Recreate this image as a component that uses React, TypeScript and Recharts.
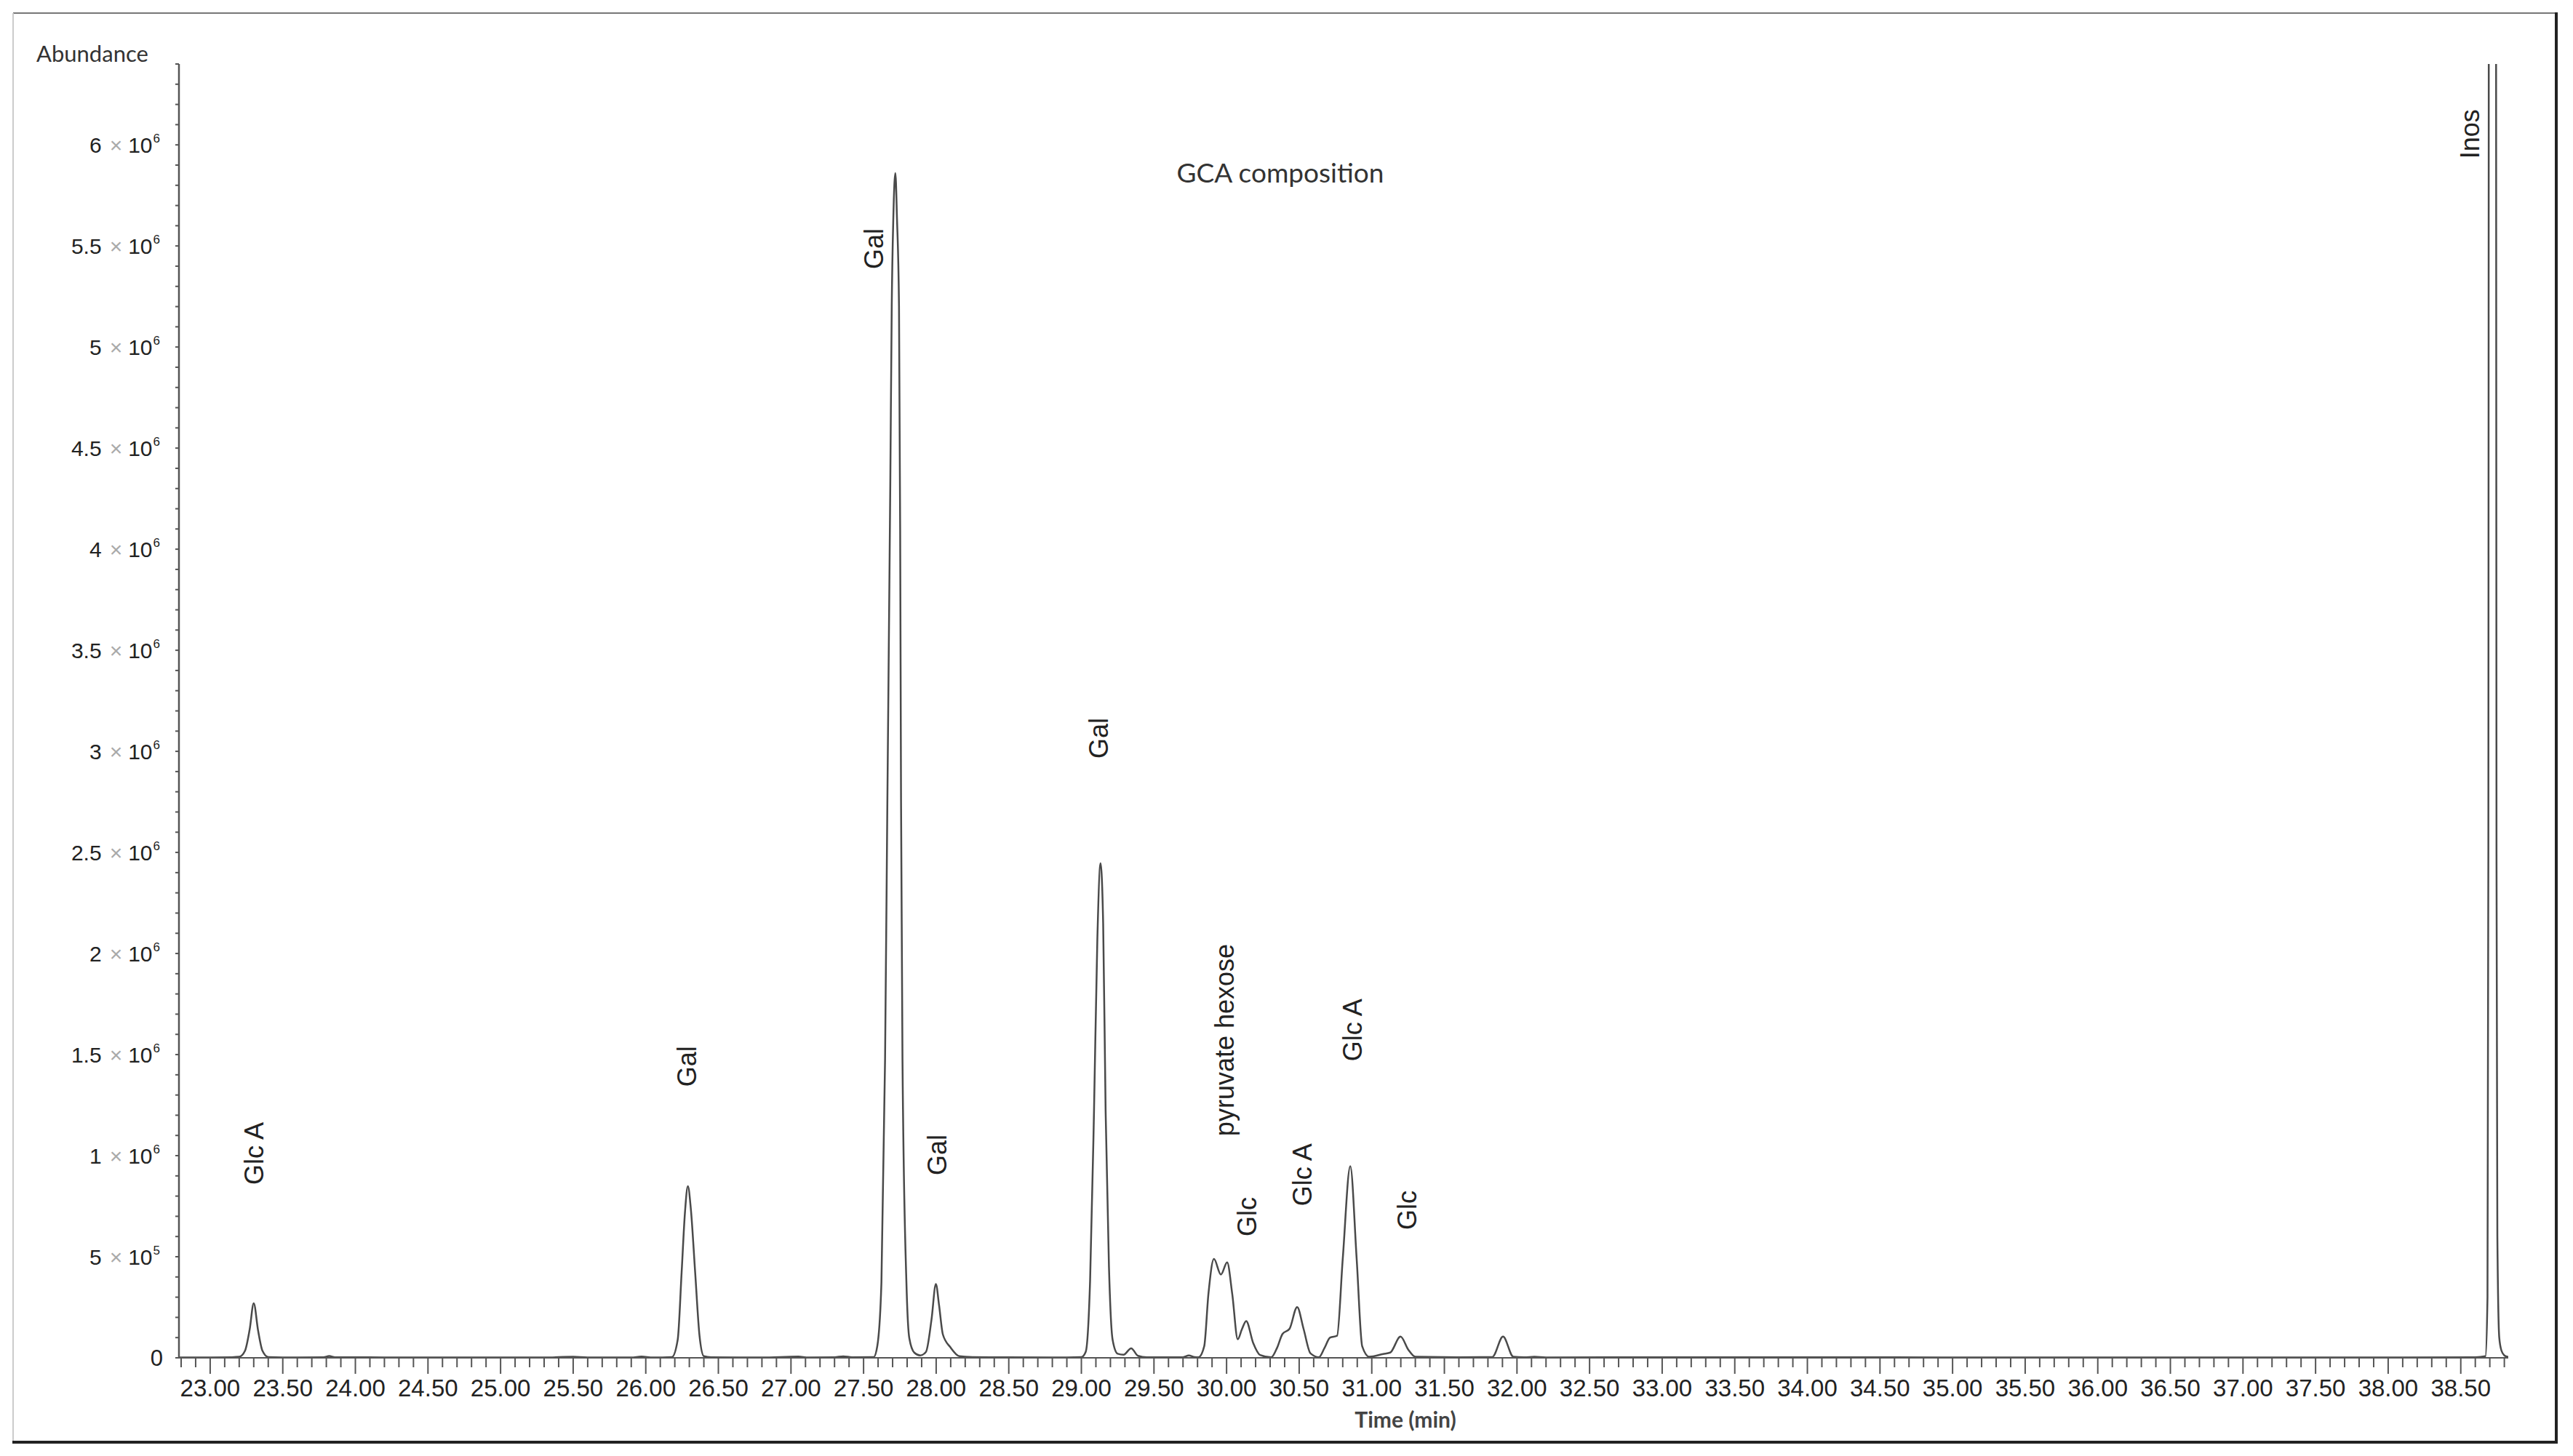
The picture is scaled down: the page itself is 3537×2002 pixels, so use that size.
import { LineChart, Line, XAxis, YAxis, ReferenceDot } from 'recharts'

// retention time (min) and abundance
const retentionTime = [
  22.785, 23.0, 23.15, 23.2, 23.24, 23.272, 23.3, 23.33, 23.36, 23.4,
  23.6, 23.78, 23.82, 23.86, 24.2, 24.8, 25.3, 25.5, 25.6, 25.9,
  25.97, 26.05, 26.18, 26.22, 26.247, 26.27, 26.29, 26.31, 26.34, 26.37,
  26.4, 26.45, 26.8, 27.05, 27.12, 27.3, 27.36, 27.42, 27.57, 27.595,
  27.623, 27.648, 27.664, 27.684, 27.694, 27.705, 27.719, 27.73, 27.744, 27.752,
  27.758, 27.768, 27.795, 27.815, 27.85, 27.89, 27.93, 27.968, 27.998, 28.02,
  28.046, 28.098, 28.16, 28.25, 28.4, 28.8, 29.0, 29.03, 29.06, 29.087,
  29.11, 29.132, 29.15, 29.167, 29.19, 29.215, 29.25, 29.29, 29.343, 29.39,
  29.45, 29.7, 29.74, 29.78, 29.807, 29.846, 29.875, 29.913, 29.961, 30.004,
  30.039, 30.077, 30.105, 30.135, 30.183, 30.231, 30.308, 30.347, 30.385, 30.434,
  30.486, 30.53, 30.578, 30.636, 30.674, 30.713, 30.761, 30.8, 30.852, 30.896,
  30.934, 30.983, 31.079, 31.127, 31.198, 31.252, 31.3, 31.6, 31.83, 31.904,
  31.975, 32.05, 32.12, 32.2, 33.0, 34.2, 35.0, 36.5, 38.0, 38.6,
  38.67, 38.684, 38.69, 38.694, 38.718, 38.742, 38.746, 38.752, 38.765, 38.78,
  38.8, 38.827,
]

const abundance = [
  2000, 2000, 3000, 5000, 35000, 140000, 270000, 135000, 35000, 4000,
  2000, 3000, 9000, 3000, 2000, 2000, 2000, 5000, 2000, 2000,
  6000, 2000, 4000, 90000, 424000, 720000, 849000, 740000, 424000, 110000,
  8000, 3000, 2000, 6000, 2000, 3000, 7000, 3000, 4000, 60000,
  374000, 1475000, 2760000, 4320000, 5200000, 5640000, 5860000, 5640000, 5200000, 4100000,
  2760000, 1475000, 374000, 97000, 25000, 12000, 30000, 190000, 365000, 260000,
  116000, 52000, 8000, 4000, 3000, 2000, 4000, 30000, 380000, 1220000,
  2070000, 2446000, 2150000, 1220000, 450000, 90000, 20000, 15000, 47000, 10000,
  3000, 3000, 12000, 4000, 3000, 57000, 316000, 489000, 412000, 472000,
  316000, 92000, 140000, 182000, 74000, 14000, 3000, 48000, 118000, 144000,
  251000, 144000, 22000, 3000, 48000, 100000, 109000, 489000, 948000, 489000,
  57000, 5000, 19000, 26000, 105000, 40000, 5000, 3000, 4000, 105000,
  5000, 3000, 5000, 2000, 3000, 3000, 2000, 2000, 2000, 3000,
  8000, 300000, 2500000, 8000000, 11000000, 8000000, 2500000, 600000, 100000, 36000,
  12000, 4000,
]

const timeTickLabels = [
  '23.00', '23.50', '24.00', '24.50', '25.00', '25.50', '26.00', '26.50',
  '27.00', '27.50', '28.00', '28.50', '29.00', '29.50', '30.00', '30.50',
  '31.00', '31.50', '32.00', '32.50', '33.00', '33.50', '34.00', '34.50',
  '35.00', '35.50', '36.00', '36.50', '37.00', '37.50', '38.00', '38.50',
]

const abundanceTickValues = [
  0, 500000, 1000000, 1500000, 2000000, 2500000, 3000000, 3500000,
  4000000, 4500000, 5000000, 5500000, 6000000,
]

const peakNames = ['Glc A', 'Gal', 'Gal', 'Gal', 'Gal', 'pyruvate hexose', 'Glc', 'Glc A', 'Glc A', 'Glc', 'Inos']
const peakLabelTime = [23.304, 26.287, 27.574, 28.008, 29.122, 29.989, 30.143, 30.522, 30.871, 31.246, 38.566]
const peakLabelAbundance = [1011000, 1442000, 5486000, 1004000, 3065000, 1572000, 698000, 906000, 1622000, 730000, 6054000]

const chromatogram = retentionTime.map((t, i) => ({ t, a: abundance[i] }))
const peakLabels = peakNames.map((name, i) => ({ name, t: peakLabelTime[i], a: peakLabelAbundance[i] }))

// minor ticks every 0.1 min / 1e5 counts
const minorTimeTicks = Array.from({ length: 161 }, (_, i) => Math.round((22.8 + i * 0.1) * 10) / 10)
const minorAbundanceTicks = Array.from({ length: 65 }, (_, i) => i * 100000)
const majorTimes = timeTickLabels.map(Number)

const W = 3537
const H = 2002
const axisFont = '"Liberation Sans", Arial, sans-serif'
const titleFont = 'Lato, "Open Sans", sans-serif'

function TimeTick(props: any) {
  const { x, y, payload } = props
  const v = payload.value as number
  const idx = majorTimes.findIndex((m) => Math.abs(m - v) < 1e-6)
  const major = idx >= 0
  return (
    <g>
      <line x1={x} x2={x} y1={y} y2={y + (major ? 22 : 13)} stroke="#555" strokeWidth={2} />
      {major && (
        <text x={x} y={y + 53} textAnchor="middle" fontSize={33} fontFamily={axisFont} fill="#222">
          {timeTickLabels[idx]}
        </text>
      )}
    </g>
  )
}

function AbundanceTick(props: any) {
  const { x, y, payload } = props
  const v = payload.value as number
  const major = abundanceTickValues.includes(v)
  let label = null
  if (major) {
    if (v === 0) {
      label = (
        <text x={x - 22} y={y} textAnchor="end" dominantBaseline="central" fontSize={31} fontFamily={axisFont} fill="#222">
          0
        </text>
      )
    } else {
      const exp = v >= 1000000 ? 6 : 5
      const mant = String(v / Math.pow(10, exp))
      label = (
        <text x={x - 26} y={y} textAnchor="end" dominantBaseline="central" fontSize={30} fontFamily={axisFont} fill="#222">
          {mant}
          <tspan dx={11} fill="#aaa">×</tspan>
          <tspan dx={8}>10</tspan>
          <tspan dx={1} dy={-9} fontSize={17}>{exp}</tspan>
        </text>
      )
    }
  }
  return (
    <g>
      <line x1={x - 5} x2={x} y1={y} y2={y} stroke="#555" strokeWidth={2} />
      {label}
    </g>
  )
}

function PeakLabel(props: any) {
  const { cx, cy, name } = props
  return (
    <text
      x={cx}
      y={cy}
      transform={`rotate(-90 ${cx} ${cy})`}
      textAnchor="middle"
      dominantBaseline="central"
      fontSize={36}
      fontFamily={axisFont}
      fill="#222"
    >
      {name}
    </text>
  )
}

export default function App() {
  return (
    <div style={{ position: 'absolute', left: 0, top: 0, width: W, height: H, background: '#fff' }}>
      <div style={{ position: 'absolute', left: 0, top: 0 }}>
        <LineChart
          width={W}
          height={H}
          data={chromatogram}
          margin={{ top: 88, right: 89, bottom: 134, left: 245 }}
        >
          <XAxis
            dataKey="t"
            type="number"
            domain={[22.785, 38.827]}
            allowDataOverflow
            ticks={minorTimeTicks}
            interval={0}
            height={1}
            tickSize={0}
            tickMargin={0}
            tickLine={false}
            tick={<TimeTick />}
            axisLine={{ stroke: '#555', strokeWidth: 2 }}
          />
          <YAxis
            type="number"
            domain={[0, 6400000]}
            allowDataOverflow
            ticks={minorAbundanceTicks}
            interval={0}
            width={1}
            tickSize={0}
            tickMargin={0}
            tickLine={false}
            tick={<AbundanceTick />}
            axisLine={{ stroke: '#555', strokeWidth: 2.5 }}
          />
          <Line
            type="monotone"
            dataKey="a"
            stroke="#4a4a4a"
            strokeWidth={2.5}
            dot={false}
            activeDot={false}
            isAnimationActive={false}
          />
          {peakLabels.map((p, i) => (
            <ReferenceDot
              key={i}
              x={p.t}
              y={p.a}
              r={0}
              ifOverflow="visible"
              shape={(sp: any) => <PeakLabel cx={sp.cx} cy={sp.cy} name={p.name} />}
            />
          ))}
        </LineChart>
      </div>
      <svg width={W} height={H} style={{ position: 'absolute', left: 0, top: 0, pointerEvents: 'none' }}>
        <line x1={18} y1={18} x2={3514} y2={18} stroke="#777" strokeWidth={2} />
        <line x1={18} y1={18} x2={18} y2={1983} stroke="#ccc" strokeWidth={2} />
        <line x1={3514} y1={17} x2={3514} y2={1985} stroke="#222" strokeWidth={4} />
        <line x1={17} y1={1983} x2={3516} y2={1983} stroke="#222" strokeWidth={4} />
        <text x={50} y={73} dominantBaseline="central" fontSize={31} fontFamily={titleFont} fill="#333">
          Abundance
        </text>
        <text x={1760} y={236} textAnchor="middle" dominantBaseline="central" fontSize={37} fontFamily={titleFont} fill="#333">
          GCA composition
        </text>
        <text x={1932} y={1951} textAnchor="middle" dominantBaseline="central" fontSize={30} fontWeight={700} fontFamily={titleFont} fill="#444">
          Time (min)
        </text>
      </svg>
    </div>
  )
}
